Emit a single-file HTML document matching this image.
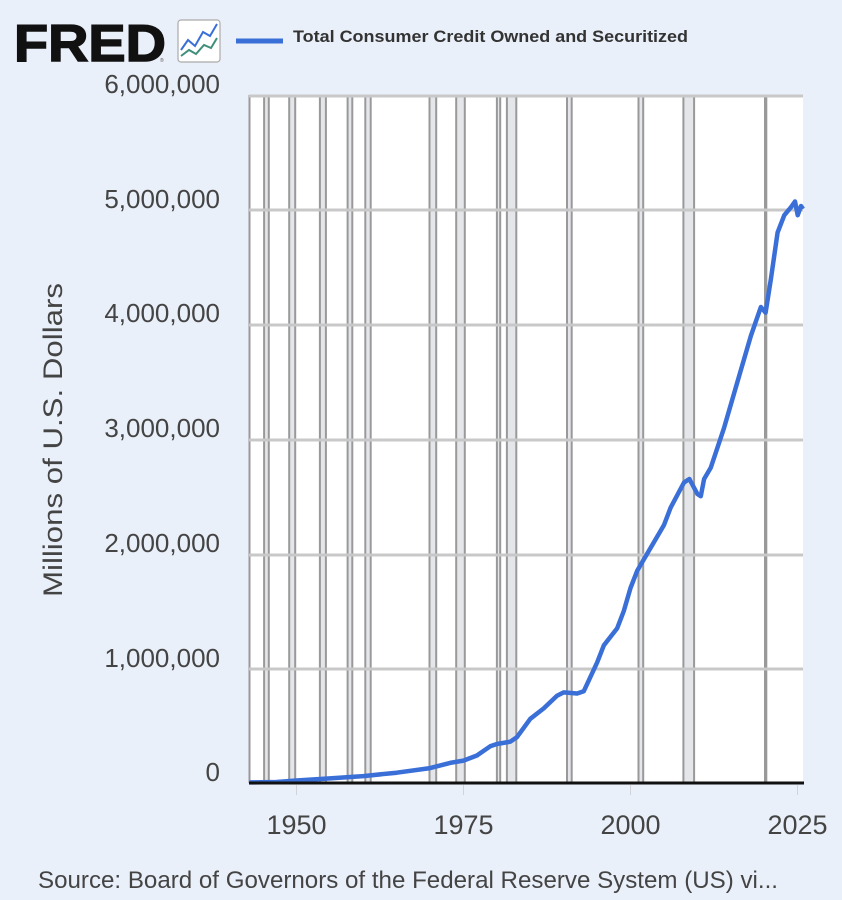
<!DOCTYPE html>
<html><head><meta charset="utf-8"><style>
html,body{margin:0;padding:0;background:#eaf0f9;}
svg{display:block;font-family:"Liberation Sans",sans-serif;}
</style></head><body>
<svg width="842" height="900" viewBox="0 0 842 900">
<rect width="842" height="900" fill="#eaf0f9"/>
<text x="14" y="61" font-size="52" font-weight="bold" fill="#111" textLength="152" lengthAdjust="spacingAndGlyphs" stroke="#111" stroke-width="1.5">FRED</text>
<text x="160" y="62" font-size="5" fill="#555">®</text>
<rect x="178" y="20" width="42" height="42" rx="3" fill="#fff" stroke="#aaa" stroke-width="1.2"/>
<polyline points="181,50 188,40 195,46 203,32 210,36 217,24" fill="none" stroke="#3a6fd8" stroke-width="2"/>
<polyline points="181,56 189,50 196,54 204,45 211,48 217,38" fill="none" stroke="#3f8f7a" stroke-width="2"/>
<line x1="236" y1="41" x2="283" y2="41" stroke="#3a6fd8" stroke-width="5"/>
<text x="293" y="42" font-size="17" font-weight="bold" fill="#333" textLength="395" lengthAdjust="spacingAndGlyphs">Total Consumer Credit Owned and Securitized</text>
<rect x="249" y="95" width="554" height="688" fill="#fff"/>
<g fill="#e4e6ea" stroke="#999" stroke-width="2">
<rect x="264.1" y="96" width="4.7" height="687"/>
<rect x="289.2" y="96" width="6" height="687"/>
<rect x="319.9" y="96" width="6" height="687"/>
<rect x="347.6" y="96" width="4.7" height="687"/>
<rect x="365.3" y="96" width="5.4" height="687"/>
<rect x="429.5" y="96" width="6.7" height="687"/>
<rect x="456.2" y="96" width="8.6" height="687"/>
<rect x="496.9" y="96" width="3.3" height="687"/>
<rect x="506.9" y="96" width="9.4" height="687"/>
<rect x="567" y="96" width="4.7" height="687"/>
<rect x="638.5" y="96" width="4.7" height="687"/>
<rect x="683.4" y="96" width="10.7" height="687"/>
<rect x="765" y="96" width="1.3" height="687"/>
</g>
<line x1="249.5" y1="95" x2="249.5" y2="783" stroke="#999" stroke-width="2"/>
<g stroke="#c8c8c8" stroke-width="3">
<line x1="249" y1="96" x2="803" y2="96"/>
<line x1="249" y1="210" x2="803" y2="210"/>
<line x1="249" y1="325" x2="803" y2="325"/>
<line x1="249" y1="440" x2="803" y2="440"/>
<line x1="249" y1="555" x2="803" y2="555"/>
<line x1="249" y1="669" x2="803" y2="669"/>
</g>
<g stroke="#d0d4da" stroke-width="1">
<line x1="296.5" y1="785" x2="296.5" y2="795"/>
<line x1="463.5" y1="785" x2="463.5" y2="795"/>
<line x1="630.5" y1="785" x2="630.5" y2="795"/>
<line x1="797.5" y1="785" x2="797.5" y2="795"/>
</g>
<polyline fill="none" stroke="#3a6fd8" stroke-width="4.5" stroke-linejoin="round" points="249.7,782.4 276.5,782 296.5,780.5 329.9,778.4 363.3,776.1 396.7,772.7 430.1,768.1 450.1,762.9 463.5,760.6 476.9,755.5 490.2,746.3 496.9,744 510.3,741.7 517,737.1 530.3,718.8 543.7,708.4 557,695.8 563.7,692.4 577.1,693.5 583.8,691.2 597.1,662.6 603.8,645.4 617.2,628.2 623.8,611 630.5,588 637.2,570.8 650.6,547.9 664,525 670.6,507.7 684,482.5 689.4,479 697.4,494 700.8,496.2 704.1,479 710.8,467.6 724.2,427.4 737.5,381.6 750.9,335.7 760.9,307 765.6,312.7 771,278.3 777.6,232.4 784.3,215.2 791,207.2 795,201.5 797.7,215.2 801,206 803,209"/>
<line x1="249" y1="783" x2="804" y2="783" stroke="#111" stroke-width="3"/>
<g font-size="26" fill="#444" text-anchor="end">
<text x="220" y="93">6,000,000</text>
<text x="220" y="208">5,000,000</text>
<text x="220" y="322">4,000,000</text>
<text x="220" y="437">3,000,000</text>
<text x="220" y="552">2,000,000</text>
<text x="220" y="667">1,000,000</text>
<text x="220" y="781">0</text>
</g>
<text transform="translate(62,440) rotate(-90)" font-size="27" fill="#444" text-anchor="middle" textLength="314" lengthAdjust="spacingAndGlyphs">Millions of U.S. Dollars</text>
<g font-size="27" fill="#444" text-anchor="middle">
<text x="296.5" y="834">1950</text>
<text x="463.5" y="834">1975</text>
<text x="630.5" y="834">2000</text>
<text x="797.5" y="834">2025</text>
</g>
<text x="38" y="888" font-size="24" fill="#444" textLength="740" lengthAdjust="spacingAndGlyphs">Source: Board of Governors of the Federal Reserve System (US) vi...</text>
</svg>
</body></html>
